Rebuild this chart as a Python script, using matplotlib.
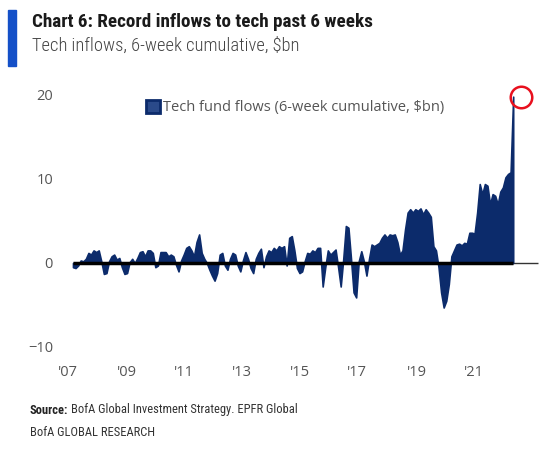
import numpy as np
import matplotlib.pyplot as plt
from matplotlib.patches import Patch
from matplotlib.transforms import offset_copy

# -------------------------
# DATA (tech fund flows, 6-week cumulative, $bn)
# -------------------------
start_year = 2007
flows_2007 = [-0.5, -0.6, -0.3, 0.3, 0.2, 0.5, 1.2, 1.0, 1.5, 1.3, 1.5, 0.2]
flows_2008 = [-1.3, -1.2, 0.2, 0.8, 1.0, 0.4, 0.6, -0.5, -1.3, -1.2, 0.1, 0.5]
flows_2009 = [0.0, 0.6, 1.3, 1.4, 0.8, 1.5, 1.5, 1.2, -0.5, -0.3, 1.3, 1.3]
flows_2010 = [1.3, 0.8, 1.0, 0.8, -0.2, -1.0, 0.3, 1.0, 1.8, 2.0, 1.5, 0.8]
flows_2011 = [2.5, 3.4, 1.2, 0.5, 0.0, -0.8, -1.5, -2.1, -1.2, 1.0, 1.2, -0.3]
flows_2012 = [-0.8, 0.5, 1.2, 1.0, -0.3, -1.0, 0.3, 1.3, 0.5, -0.6, -1.2, 0.5]
flows_2013 = [1.2, 1.7, -0.5, 0.8, 1.5, 1.3, 1.8, 1.5, 2.0, 1.8, 2.0, -0.3]
flows_2014 = [3.0, 3.2, 1.5, -0.6, -1.2, -1.0, 0.2, 1.2, 1.1, 1.5, 1.3, 1.8]
flows_2015 = [1.8, -2.8, -0.5, 1.5, 1.0, 1.3, 1.6, -0.5, -2.8, 0.5, 4.4, 4.2]
flows_2016 = [0.5, -3.5, -4.1, 0.2, 1.4, 0.2, -1.5, 0.5, 2.2, 2.0, 2.2, 2.4]
flows_2017 = [3.0, 3.4, 3.0, 3.4, 3.3, 3.4, 2.5, 1.0, 1.5, 4.0, 6.0, 6.4]
flows_2018 = [6.0, 6.4, 6.2, 6.5, 5.8, 6.4, 6.0, 5.5, 2.0, 1.5, -0.5, -3.5]
flows_2019 = [-5.3, -4.5, -2.5, 0.8, 1.5, 2.2, 2.3, 2.1, 2.4, 2.3, 3.6, 3.6]
flows_2020 = [3.5, 6.0, 9.4, 8.2, 9.4, 9.2, 7.0, 8.2, 8.0, 7.0, 8.5, 9.0]
flows_2021 = [10.2, 10.6, 10.8, 19.8]

tick_labels = ["'07", "'09", "'11", "'13", "'15", "'17", "'19", "'21"]
# where the labels sit on the time axis in the original chart
tick_pos = [2006.85, 2008.75, 2010.6, 2012.47, 2014.35, 2016.2, 2018.14, 2019.99]
y_ticks = [-10, 0, 10, 20]

navy = '#0c2b6b'
grey = '#555555'
narrow = ['Roboto Condensed', 'Liberation Sans Narrow', 'Lato', 'DejaVu Sans']
body = ['Open Sans', 'DejaVu Sans']

flows = np.array(flows_2007 + flows_2008 + flows_2009 + flows_2010 + flows_2011
                 + flows_2012 + flows_2013 + flows_2014 + flows_2015 + flows_2016
                 + flows_2017 + flows_2018 + flows_2019 + flows_2020 + flows_2021)
x = start_year + np.arange(len(flows)) / 12.0

# -------------------------
# PLOT
# -------------------------
fig = plt.figure(figsize=(5.6, 4.59), dpi=100)
ax = fig.add_axes([60 / 560, 112 / 459, 485 / 560, 252 / 459])

ax.fill_between(x, 0, flows, color=navy, lw=1.2, edgecolor=navy, zorder=2)
ax.hlines(0, x[0], 2022.06, color='#333333', lw=1, zorder=1)
ax.hlines(0, x[0], x[-1], color='black', lw=2.5, zorder=3)

# red circle marking the record
circ_tr = offset_copy(ax.transData, fig=fig, x=8, y=0, units='dots')
ax.plot([x[-1]], [flows[-1]], marker='o', ms=15.5, mfc='none', mec='#e8101e',
        mew=1.8, transform=circ_tr, clip_on=False, zorder=5)

ax.set_xlim(2006.58, 2022.28)
ax.set_ylim(-10, 20)
ax.set_xticks(tick_pos)
ax.set_xticklabels(tick_labels)
ax.set_yticks(y_ticks)
ax.tick_params(axis='both', length=0, labelsize=10.5, colors=grey)
ax.tick_params(axis='x', pad=13)
ax.tick_params(axis='y', pad=5)
for lab in ax.get_xticklabels() + ax.get_yticklabels():
    lab.set_family(body)
for s in ax.spines.values():
    s.set_visible(False)

leg = ax.legend(handles=[Patch(facecolor='#2a4a8a', edgecolor=navy, lw=2)],
                labels=['Tech fund flows (6-week cumulative, $bn)'],
                loc='upper left', bbox_to_anchor=(0.177, 0.98), frameon=False,
                borderpad=0, borderaxespad=0, handlelength=0.95, handleheight=0.95,
                handletextpad=0.25, prop={'family': body, 'size': 10.5})
for t in leg.get_texts():
    t.set_color(grey)

# title block
fig.patches.append(plt.Rectangle((8 / 560, 1 - 66 / 459), 8 / 560, 56 / 459,
                                 transform=fig.transFigure, color='#1450c8'))
fig.text(32 / 560, 1 - 22 / 459, 'Chart 6: Record inflows to tech past 6 weeks',
         family=narrow, weight='bold', size=13.8,
         color='#1a1a1a', va='center', ha='left')
fig.text(32 / 560, 1 - 46 / 459, 'Tech inflows, 6-week cumulative, $bn',
         family=narrow, weight='light', size=13.3, color='#444444', va='center', ha='left')

# source
src = fig.text(30 / 560, 1 - 410 / 459, 'Source:', family=narrow, weight='bold',
               size=9, color='#222222', va='center', ha='left')
fig.canvas.draw()
bb = src.get_window_extent()
fig.text(bb.x1 / 560 + 3 / 560, 1 - 410 / 459, 'BofA Global Investment Strategy. EPFR Global',
         family=narrow, size=9, color='#333333', va='center', ha='left')
fig.text(30 / 560, 1 - 433 / 459, 'BofA GLOBAL RESEARCH',
         family=narrow, size=9, color='#333333', va='center', ha='left')

plt.savefig('out.png', dpi=100)
